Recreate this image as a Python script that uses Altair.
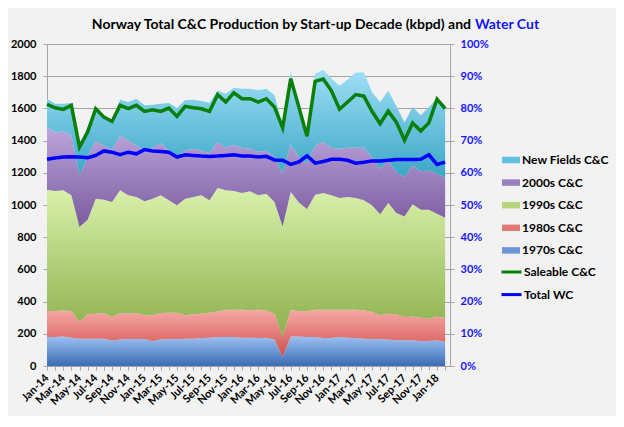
import json
import altair as alt
import pandas as pd

months = ["Jan-14", "Feb-14", "Mar-14", "Apr-14", "May-14", "Jun-14", "Jul-14", "Aug-14", "Sep-14", "Oct-14", "Nov-14", "Dec-14",
          "Jan-15", "Feb-15", "Mar-15", "Apr-15", "May-15", "Jun-15", "Jul-15", "Aug-15", "Sep-15", "Oct-15", "Nov-15", "Dec-15",
          "Jan-16", "Feb-16", "Mar-16", "Apr-16", "May-16", "Jun-16", "Jul-16", "Aug-16", "Sep-16", "Oct-16", "Nov-16", "Dec-16",
          "Jan-17", "Feb-17", "Mar-17", "Apr-17", "May-17", "Jun-17", "Jul-17", "Aug-17", "Sep-17", "Oct-17", "Nov-17", "Dec-17",
          "Jan-18", "Feb-18"]

c1970s = [180, 180, 184, 176, 170, 170, 170, 170, 159, 164, 168, 168, 168, 153, 164, 168, 166, 170, 170, 174,
          176, 180, 180, 180, 176, 176, 174, 176, 164, 56, 184, 184, 180, 180, 174, 174, 180, 176, 174, 170,
          168, 166, 164, 160, 160, 160, 153, 155, 160, 149]
c1980s = [161, 161, 161, 165, 103, 151, 155, 159, 145, 165, 157, 161, 147, 162, 165, 163, 165, 145, 151, 151,
          155, 159, 170, 170, 174, 170, 176, 170, 161, 124, 166, 156, 160, 170, 176, 176, 170, 174, 176, 176,
          167, 149, 161, 161, 144, 148, 147, 139, 148, 149]
c1990s = [754, 746, 746, 719, 590, 588, 714, 704, 714, 762, 735, 720, 708, 724, 731, 698, 667, 724, 728, 735,
          698, 766, 741, 737, 724, 739, 710, 724, 693, 687, 731, 675, 635, 713, 724, 710, 693, 699, 693, 683,
          663, 627, 687, 629, 625, 696, 671, 677, 638, 623]
c2000s = [389, 362, 368, 372, 321, 389, 358, 337, 325, 341, 341, 321, 316, 317, 325, 310, 310, 300, 301, 279,
          294, 286, 265, 287, 282, 265, 269, 269, 280, 327, 295, 283, 281, 307, 317, 296, 307, 307, 313, 327,
          300, 283, 265, 255, 245, 242, 238, 244, 248, 249]
new_fields = [176, 180, 170, 201, 191, 186, 207, 187, 187, 222, 239, 290, 280, 267, 244, 294, 295, 311, 304, 307,
              310, 321, 335, 354, 366, 372, 383, 383, 383, 296, 454, 322, 189, 445, 449, 429, 390, 424, 467, 467,
              404, 415, 433, 408, 338, 362, 348, 393, 466, 450]
saleable = [1625, 1604, 1594, 1619, 1360, 1453, 1598, 1546, 1519, 1619, 1598, 1619, 1581, 1592, 1581, 1602, 1550, 1613, 1604, 1598,
            1581, 1685, 1639, 1697, 1660, 1660, 1639, 1660, 1608, 1480, 1785, 1608, 1427, 1768, 1782, 1710, 1595, 1640, 1686, 1676,
            1582, 1505, 1583, 1515, 1402, 1510, 1460, 1510, 1657, 1598]
water_cut = [64.2, 64.6, 64.9, 65.0, 64.9, 64.7, 65.4, 66.8, 66.4, 65.6, 66.4, 65.9, 67.2, 66.8, 66.6, 66.4, 64.9, 65.6, 65.4, 65.2,
             65.1, 65.2, 65.4, 65.6, 65.2, 65.2, 64.9, 65.1, 64.0, 63.9, 62.6, 63.4, 65.3, 63.0, 63.5, 64.2, 64.2, 63.9, 63.0, 63.3,
             63.7, 63.7, 63.9, 64.1, 64.1, 64.1, 64.2, 65.6, 62.6, 63.3]

series_names = ["1970s C&C", "1980s C&C", "1990s C&C", "2000s C&C", "New Fields C&C"]
series_values = [c1970s, c1980s, c1990s, c2000s, new_fields]
grad_top = ["#9cc0f2", "#f6a8a6", "#d9f1aa", "#bca6dc", "#9fdff6"]
grad_bottom = ["#3b6cb5", "#cf4f4b", "#8caf4c", "#7a5a9e", "#3aa6c6"]
legend_order = ["New Fields C&C", "2000s C&C", "1990s C&C", "1980s C&C", "1970s C&C"]
legend_fill = ["#62c1e0", "#9a80bf", "#b6d67e", "#e27a78", "#6e96d6"]
line_names = ["Saleable C&C", "Total WC"]
line_colors = ["#0a7f0a", "#0000ff"]

FONT = "Lato"
GREY = "#a6a6a6"

df = pd.DataFrame({"idx": list(range(len(months))), "month": months,
                   "saleable": saleable, "wc": [w / 100 for w in water_cut]})
cum = [0] * len(months)
for name, vals in zip(series_names, series_values):
    df[name + "_lo"] = cum
    cum = [a + b for a, b in zip(cum, vals)]
    df[name + "_hi"] = cum

label_expr = "datum.value % 2 == 0 ? " + json.dumps(months) + "[datum.value] : ''"
x_enc = alt.X("idx:Q", scale=alt.Scale(domain=[0, 49.6], nice=False, zero=False),
              axis=alt.Axis(values=list(range(len(months))), labelExpr=label_expr, labelAngle=315,
                            labelAlign="right", labelBaseline="middle", labelFontSize=11, labelFontWeight="bold",
                            labelColor="black", labelPadding=6, tickSize=4, tickColor=GREY, domainColor=GREY,
                            grid=False, title=None, labelOverlap=False, labelBound=False, labelFlush=False))

y_scale = alt.Scale(domain=[0, 2000], nice=False)
y_axis = alt.Axis(values=list(range(0, 2001, 200)), format="d", title=None, grid=True, gridColor=GREY,
                  domainColor=GREY, tickColor=GREY, tickSize=4, labelFontSize=11, labelFontWeight="bold",
                  labelColor="black", labelPadding=7)

base = alt.Chart(df)
layers = []
for name, top, bottom in zip(series_names, grad_top, grad_bottom):
    g = alt.Gradient(gradient="linear",
                     stops=[alt.GradientStop(color=top, offset=0), alt.GradientStop(color=bottom, offset=1)],
                     x1=0, x2=0, y1=0, y2=1)
    layers.append(base.mark_area(color=g).encode(
        x=x_enc,
        y=alt.Y(name + "_lo:Q", scale=y_scale, axis=y_axis),
        y2=alt.Y2(name + "_hi:Q")))

stroke_scale = alt.Scale(domain=line_names, range=line_colors)
stroke_legend = alt.Legend(orient="none", legendX=453, legendY=216.5, title=None, symbolType="stroke",
                           symbolSize=400, symbolStrokeWidth=3, labelFontSize=12, labelFontWeight="bold",
                           labelColor="black", rowPadding=4.6, padding=0, labelOffset=1)

sale_line = base.transform_calculate(series="'Saleable C&C'").mark_line(strokeWidth=3.5).encode(
    x=x_enc, y=alt.Y("saleable:Q", scale=y_scale, axis=y_axis),
    stroke=alt.Stroke("series:N", scale=stroke_scale, legend=stroke_legend))

legend_df = pd.DataFrame({"series": legend_order})
fill_key = alt.Chart(legend_df).mark_square(opacity=0).encode(
    fill=alt.Fill("series:N", scale=alt.Scale(domain=legend_order, range=legend_fill),
                  legend=alt.Legend(orient="none", legendX=455, legendY=107, title=None,
                                    symbolType="M-1,-0.36H1V0.36H-1Z", symbolSize=324, symbolStrokeWidth=0,
                                    symbolOpacity=1, labelFontSize=12, labelFontWeight="bold",
                                    labelColor="black", rowPadding=7.6, padding=0, labelOffset=2)))

title_df = pd.DataFrame({"a": ["Norway Total C&C Production by Start-up Decade (kbpd) and"], "b": ["Water Cut"]})
title_black = alt.Chart(title_df).mark_text(align="right", baseline="alphabetic", fontSize=14, fontWeight="bold",
                                            font=FONT, color="black").encode(
    text="a:N", x=alt.value(424), y=alt.value(-15))
title_blue = alt.Chart(title_df).mark_text(align="left", baseline="alphabetic", fontSize=14, fontWeight="bold",
                                           font=FONT, color="#1414ff").encode(
    text="b:N", x=alt.value(428), y=alt.value(-15))

left = alt.layer(*layers, sale_line, fill_key, title_black, title_blue)

wc_line = base.transform_calculate(series="'Total WC'").mark_line(strokeWidth=3.5).encode(
    x=x_enc,
    y=alt.Y("wc:Q", scale=alt.Scale(domain=[0, 1], nice=False),
            axis=alt.Axis(orient="right", format="%", values=[i / 10 for i in range(11)], title=None, grid=False,
                          domainColor=GREY, tickColor=GREY, tickSize=4, labelFontSize=11, labelFontWeight="bold",
                          labelColor="#1414ff", labelPadding=6)),
    stroke=alt.Stroke("series:N", scale=stroke_scale, legend=stroke_legend))

chart = alt.layer(left, wc_line).resolve_scale(y="independent").properties(
    width=403, height=322,
    padding={"left": 39, "top": 36, "right": 166, "bottom": 50},
    autosize=alt.AutoSizeParams(type="none"),
    background="#f2f2f2",
).configure(font=FONT).configure_view(stroke=None).configure_axis(labelFont=FONT).configure_legend(labelFont=FONT)

chart.save("out.html", embed_options={"renderer": "svg", "actions": False})
